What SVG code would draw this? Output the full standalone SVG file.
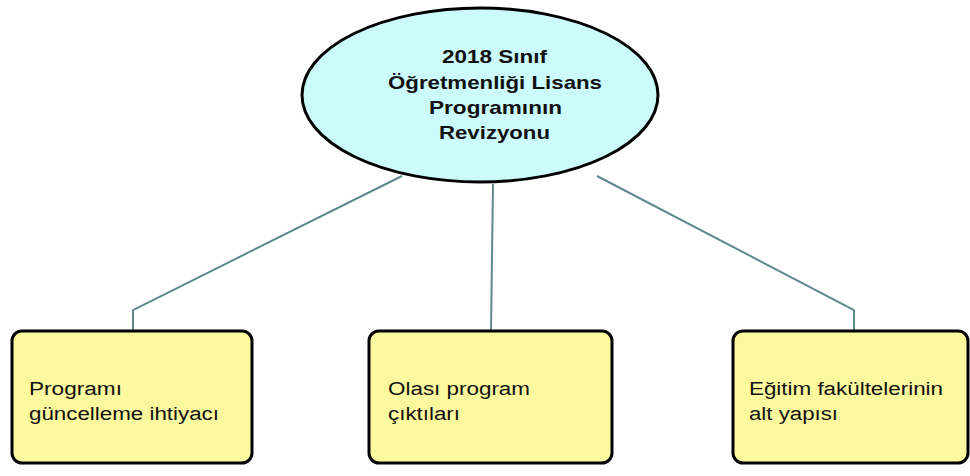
<svg xmlns="http://www.w3.org/2000/svg" width="970" height="476" viewBox="0 0 970 476">
<style>
.conn{fill:none;stroke:#5f8a8c;stroke-width:2}
.box{fill:#fdf99e;stroke:#000;stroke-width:3}
.ell{fill:#ccfbfc;stroke:#000;stroke-width:3}
.t{font-family:"Liberation Sans",Arial,sans-serif;font-size:18px;fill:#111}
.tb{font-family:"Liberation Sans",Arial,sans-serif;font-size:19px;font-weight:bold;fill:#111}
</style>
<rect width="970" height="476" fill="#fff"/>
<g id="connectors">
<polyline class="conn" points="402,176 133,310 133,331"/>
<polyline class="conn" points="493,184 491,331"/>
<polyline class="conn" points="597,176 854,310 854,331"/>
</g>
<g id="root">
<ellipse class="ell" cx="480" cy="95" rx="178" ry="87"/>
<text class="tb" x="442" y="63" textLength="105" lengthAdjust="spacingAndGlyphs">2018 Sınıf</text>
<text class="tb" x="388" y="89" textLength="214" lengthAdjust="spacingAndGlyphs">Öğretmenliği Lisans</text>
<text class="tb" x="429" y="114" textLength="133" lengthAdjust="spacingAndGlyphs">Programının</text>
<text class="tb" x="439" y="139" textLength="111" lengthAdjust="spacingAndGlyphs">Revizyonu</text>
</g>
<g id="n1">
<rect class="box" x="12" y="331" width="240" height="132" rx="10"/>
<text class="t" x="29" y="395" textLength="93" lengthAdjust="spacingAndGlyphs">Programı</text>
<text class="t" x="29" y="420" textLength="190" lengthAdjust="spacingAndGlyphs">güncelleme ihtiyacı</text>
</g>
<g id="n2">
<rect class="box" x="369" y="331" width="243" height="132" rx="10"/>
<text class="t" x="388" y="395" textLength="142" lengthAdjust="spacingAndGlyphs">Olası program</text>
<text class="t" x="388" y="420" textLength="72" lengthAdjust="spacingAndGlyphs">çıktıları</text>
</g>
<g id="n3">
<rect class="box" x="733" y="331" width="235" height="132" rx="10"/>
<text class="t" x="749" y="395" textLength="194" lengthAdjust="spacingAndGlyphs">Eğitim fakültelerinin</text>
<text class="t" x="749" y="420" textLength="89" lengthAdjust="spacingAndGlyphs">alt yapısı</text>
</g>
</svg>
